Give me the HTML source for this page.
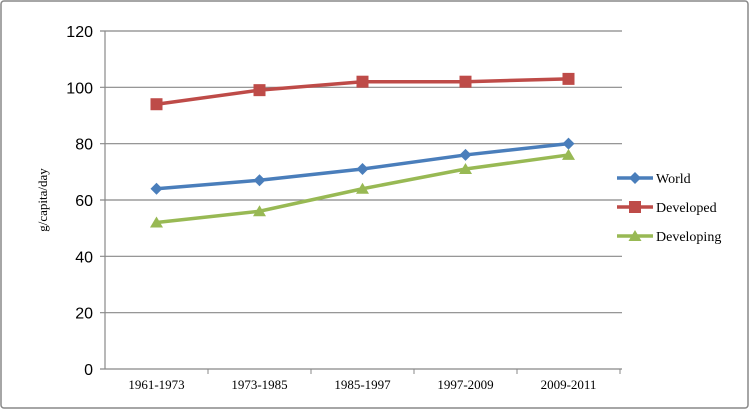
<!DOCTYPE html>
<html><head><meta charset="utf-8"><style>
body{margin:0;background:#fff}
svg{display:block}
</style></head><body>
<svg width="750" height="412" xmlns="http://www.w3.org/2000/svg">
<rect x="1" y="1" width="747" height="407" fill="#fff" stroke="#888" stroke-width="1.5" rx="3"/>
<g id="grid"></g><g id="axes"></g><g id="series"></g><g id="legend"></g>
<text transform="translate(47,200) rotate(-90)" text-anchor="middle" font-family="Liberation Serif, serif" font-size="13">g/capita/day</text>
</svg>
<script>
const categories=["1961-1973","1973-1985","1985-1997","1997-2009","2009-2011"];
const world=[64,67,71,76,80];
const developed=[94,99,102,102,103];
const developing=[52,56,64,71,76];
const yTicks=[0,20,40,60,80,100,120];
const NS="http://www.w3.org/2000/svg";
const x0=105,x1=620,y0=369,y1=31;
const bw=(x1-x0)/categories.length;
const xs=i=>x0+bw*(i+0.5);
const ys=v=>y0-(v/120)*(y0-y1);
function mk(t,a,p){const e=document.createElementNS(NS,t);for(const k in a)e.setAttribute(k,a[k]);p.appendChild(e);return e;}
const grid=document.getElementById('grid'),axes=document.getElementById('axes'),ser=document.getElementById('series'),leg=document.getElementById('legend');
yTicks.forEach(v=>{
 const l=mk('line',{x1:x0-5,x2:x1+2,y1:ys(v),y2:ys(v),stroke:'#888','stroke-width':1.2},grid);
 
 
 const t=mk('text',{x:x0-12,y:ys(v)+6,'text-anchor':'end','font-family':'Liberation Sans, sans-serif','font-size':16},axes);
 t.textContent=v;
 
 
});
const ya=mk('line',{x1:x0,x2:x0,y1:y1,y2:y0,stroke:'#888','stroke-width':1.2},axes);


categories.forEach((c,i)=>{
 const tk=mk('line',{x1:x0+bw*(i+1),x2:x0+bw*(i+1),y1:y0,y2:y0+5,stroke:'#888'},axes);
 
 
 const t=mk('text',{x:xs(i),y:389,'text-anchor':'middle','font-family':'Liberation Serif, serif','font-size':13},axes);
 t.textContent=c;
 
 
});
function marker(type,x,y,color,g){
 if(type==='d')return mk('polygon',{points:`${x},${y-6} ${x+6},${y} ${x},${y+6} ${x-6},${y}`,fill:color},g);
 if(type==='s')return mk('rect',{x:x-6,y:y-6,width:12,height:12,fill:color},g);
 return mk('polygon',{points:`${x},${y-6} ${x+6.5},${y+5} ${x-6.5},${y+5}`,fill:color},g);
}
const series=[["World",world,'#4a7ebb','d'],["Developed",developed,'#be4b48','s'],["Developing",developing,'#98b954','t']];
series.forEach(([name,vals,color,m],si)=>{
 const g=mk('g',{},ser);
 
 
 const pl=mk('polyline',{points:vals.map((v,i)=>xs(i)+','+ys(v)).join(' '),fill:'none',stroke:color,'stroke-width':3.5},g);
 
 
 vals.forEach((v,i)=>{const mm=marker(m,xs(i),ys(v),color,g);
  
  });
 const ly=178+si*29;
 const lg=mk('g',{},leg);
 
 
 mk('line',{x1:617,x2:653,y1:ly,y2:ly,stroke:color,'stroke-width':3.5},lg);
 marker(m,635,ly,color,lg);
 const t=mk('text',{x:656,y:ly+5,'font-family':'Liberation Serif, serif','font-size':14},lg);
 t.textContent=name;
});
</script>
</body></html>
